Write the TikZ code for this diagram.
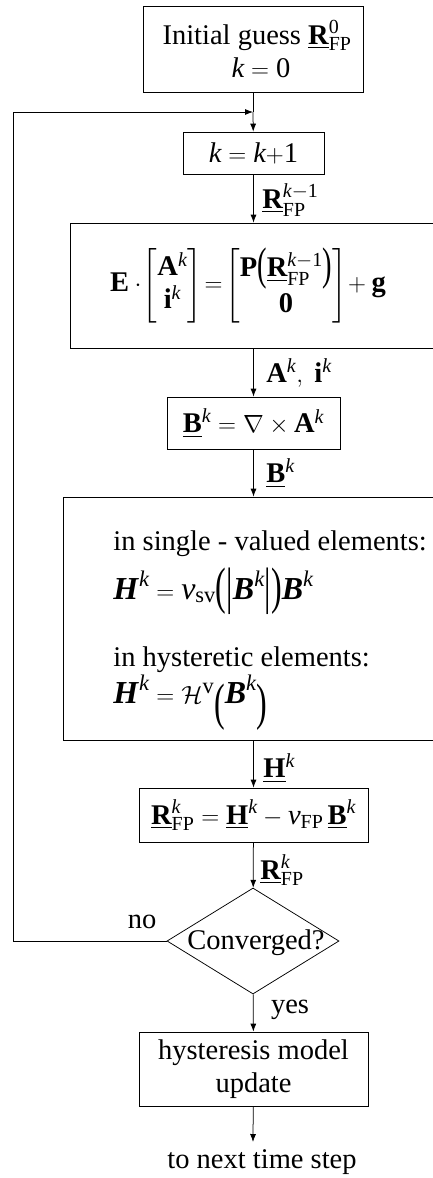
\documentclass[tikz,border=0pt]{standalone}
\usepackage{amsmath}
\usepackage{graphicx}
\usepackage{fontspec}
\setmainfont{Liberation Serif}
\usetikzlibrary{arrows.meta,shapes.geometric}
\newcommand\fsz{\fontsize{28.5}{33}\selectfont}
\newcommand\fbig{\fontsize{32}{36}\selectfont}
\newcommand\mk{\mathit{k}}
\newcommand\ulR{\underline{\mathbf{R}}}
\newcommand\bfit[1]{\textbf{\textit{#1}}}
\newcommand\nuit{\textit{ν}}
\newcommand\tallp[3]{\raisebox{#3}{\scalebox{1}[#2]{#1}}}
\begin{document}
\begin{tikzpicture}[x=1pt,y=1pt,line width=0.75pt,font=\fsz,
  >={Latex[length=8pt,width=6pt]},
  box/.style={draw,inner sep=0pt,align=center},
  lbl/.style={anchor=west,inner sep=0pt},
  txt/.style={anchor=base west,inner sep=0pt}]
\useasboundingbox (0,0) rectangle (433,-1178);
\clip (0,0) rectangle (433,-1178);
% boxes
\node[box,minimum width=220pt,minimum height=86pt] (init) at (253,-49) {\hspace*{8pt}Initial guess $\ulR^{\mathrm{0}}_{\mathrm{FP}}$\\ \hspace*{16pt}$\mk=\mathrm{0}$};
\coordinate (merge) at (253,-112);
\coordinate (lc) at (13,-112);
\node[box,minimum width=141pt,minimum height=42pt] (kk) at (253.5,-153) {$\mk=\mk{+}\mathrm{1}$};
\node[box,minimum width=370pt,minimum height=125pt] (eqbox) at (255,-285.5) {$\mathbf{E}\cdot\!\begin{bmatrix}\mathbf{A}^{\mk}\\ \mathbf{i}^{\mk}\end{bmatrix}\!=\!\begin{bmatrix}\mathbf{P}\tallp{(}{1.6}{-3pt}\ulR^{\mk-\mathrm{1}}_{\mathrm{FP}}\tallp{)}{1.6}{-3pt}\\ \mathbf{0}\end{bmatrix}\!+\mathbf{g}$\hspace*{14pt}};
\node[box,minimum width=173pt,minimum height=52pt] (bb) at (253.5,-423) {$\underline{\mathbf{B}}^{\mk}=\nabla\times\mathbf{A}^{\mk}$};
\node[box,minimum width=377pt,minimum height=243pt] (hbox) at (251.5,-618.5) {};
\node[txt] (h1) at (113,-550) {in single - valued elements:};
\node[txt,font=\fbig] (h2) at (113,-599) {$\bfit{H}^{\mk}=\nuit_{\mathrm{sv}}\tallp{(}{1.6}{-4pt}\tallp{|}{1.6}{-4pt}\bfit{B}^{\mk}\tallp{|}{1.6}{-4pt}\tallp{)}{1.6}{-4pt}\bfit{B}^{\mk}$};
\node[txt] (h3) at (113,-666) {in hysteretic elements:};
\node[txt,font=\fbig] (h4) at (113,-703) {$\bfit{H}^{\mk}=\mathcal{H}^{\mathrm{v}}\tallp{(}{1.6}{-16pt}\bfit{B}^{\mk}\tallp{)}{1.6}{-16pt}$};
\node[box,minimum width=229pt,minimum height=54pt] (rr) at (253.5,-815) {$\ulR^{\mk}_{\mathrm{FP}}=\underline{\mathbf{H}}^{\mk}-\nuit_{\mathrm{FP}}\,\underline{\mathbf{B}}^{\mk}$};
\node[diamond,draw,minimum width=172pt,minimum height=106pt,inner sep=0pt] (conv) at (253,-941) {};
\node[inner sep=0pt] (convtext) at (256,-943) {Converged?};
\node[box,minimum width=229pt,minimum height=74pt] (hyst) at (253.5,-1069) {hysteresis model\\ update};
\coordinate (next) at (253,-1142);
\node[inner sep=0pt] (nexttext) at (262,-1162) {to next time step};
% connectors
\draw (init) -- (merge);
\draw[->] (merge) -- (kk);
\draw[->] (kk) -- (kk |- eqbox.north);
\draw[->] (kk |- eqbox.south) -- (bb);
\draw[->] (bb) -- (bb |- hbox.north);
\draw[->] (bb |- hbox.south) -- (rr);
\draw[->] (rr) -- (conv);
\draw[->] (conv) -- (hyst);
\draw[->] (hyst) -- (next);
\draw[->] (conv.west) -| (lc) -- (merge);
% labels
\node[lbl] (l1) at (262,-200) {$\ulR^{\mk-\mathrm{1}}_{\mathrm{FP}}$};
\node[lbl] (l2) at (266,-373) {$\mathbf{A}^{\mk},\ \mathbf{i}^{\mk}$};
\node[lbl] (l3) at (266,-473) {$\underline{\mathbf{B}}^{\mk}$};
\node[lbl] (l4) at (263,-768) {$\underline{\mathbf{H}}^{\mk}$};
\node[lbl] (l5) at (260,-870) {$\ulR^{\mk}_{\mathrm{FP}}$};
\node[inner sep=0pt] (no) at (142,-922) {no};
\node[inner sep=0pt] (yes) at (290,-1010) {yes};
\end{tikzpicture}
\end{document}
